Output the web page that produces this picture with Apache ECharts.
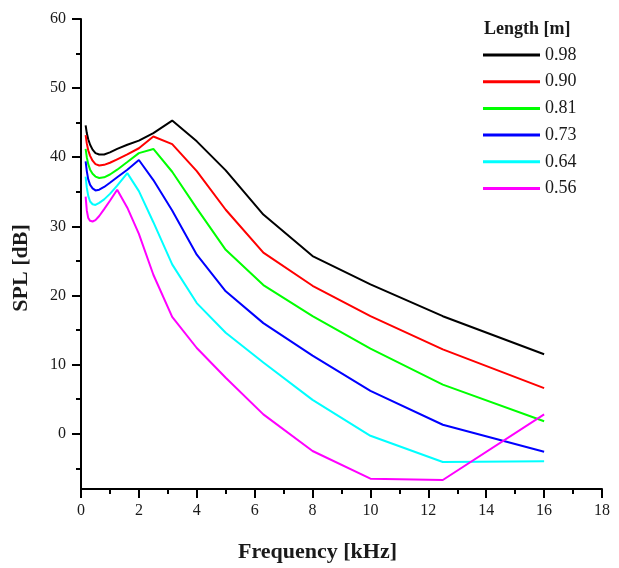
<!DOCTYPE html>
<html>
<head>
<meta charset="utf-8">
<script src="https://cdn.jsdelivr.net/npm/echarts@6.0.0/dist/echarts.min.js"></script>
<style>
html,body{margin:0;padding:0;background:#fff;}
#chart{width:619px;height:568px;}
</style>
</head>
<body>
<div id="chart"></div>
<script>
// Frequency bands [kHz]
const freq = [0.16, 0.2, 0.25, 0.315, 0.4, 0.5, 0.63, 0.8, 1.0, 1.25, 1.6, 2.0, 2.5, 3.15, 4.0, 5.0, 6.3, 8.0, 10.0, 12.5, 16.0];

// SPL [dB] per tube length [m]
const len098 = [44.6, 43.5, 42.6, 41.8, 41.1, 40.6, 40.4, 40.4, 40.7, 41.2, 41.8, 42.4, 43.5, 45.3, 42.3, 38.1, 31.7, 25.7, 21.6, 17.0, 11.5];
const len090 = [43.2, 42.0, 41.0, 40.2, 39.5, 39.0, 38.8, 38.9, 39.2, 39.7, 40.4, 41.3, 43.0, 41.9, 38.0, 32.4, 26.2, 21.4, 17.0, 12.2, 6.6];
const len081 = [41.2, 40.0, 39.0, 38.2, 37.6, 37.2, 37.0, 37.1, 37.5, 38.2, 39.3, 40.6, 41.2, 37.9, 32.6, 26.6, 21.5, 17.0, 12.3, 7.1, 1.8];
const len073 = [39.4, 38.0, 36.8, 36.0, 35.5, 35.2, 35.3, 35.7, 36.3, 37.1, 38.2, 39.6, 36.7, 32.3, 25.9, 20.6, 16.0, 11.3, 6.2, 1.3, -2.6];
const len064 = [37.2, 35.6, 34.4, 33.6, 33.2, 33.1, 33.4, 33.9, 34.7, 35.9, 37.7, 35.1, 30.6, 24.5, 18.9, 14.6, 10.3, 4.9, -0.3, -4.1, -4.0];
const len056 = [34.3, 32.3, 31.2, 30.8, 30.7, 30.9, 31.5, 32.5, 33.7, 35.3, 32.7, 28.9, 23.0, 16.9, 12.4, 8.1, 2.8, -2.5, -6.5, -6.7, 2.8];

const seriesNames = ['0.98', '0.90', '0.81', '0.73', '0.64', '0.56'];
const seriesValues = [len098, len090, len081, len073, len064, len056];
const seriesColors = ['#000000', '#ff0000', '#00ff00', '#0000ff', '#00ffff', '#ff00ff'];

// Axis ticks
const yTicks = [0, 10, 20, 30, 40, 50, 60];
const yMinorTicks = [-5, 5, 15, 25, 35, 45, 55];

const FONT = "'Liberation Serif', 'DejaVu Serif', serif";
const TXT = '#1a1a1a';

const chart = echarts.init(document.getElementById('chart'), null, {renderer: 'canvas'});

const series = seriesNames.map((name, k) => ({
  name: name,
  type: 'line',
  xAxisIndex: 0,
  yAxisIndex: 0,
  symbol: 'none',
  smooth: false,
  lineStyle: {width: 2, color: seriesColors[k]},
  itemStyle: {color: seriesColors[k]},
  data: freq.map((f, i) => [f, seriesValues[k][i]])
}));

chart.setOption({
  animation: false,
  backgroundColor: '#ffffff',
  title: {
    text: 'Length [m]',
    left: 484,
    top: 20,
    padding: 0,
    textStyle: {fontFamily: FONT, fontWeight: 'bold', fontSize: 18, color: TXT}
  },
  legend: {
    orient: 'vertical',
    left: 483,
    top: 46,
    padding: 0,
    itemWidth: 57,
    itemHeight: 3,
    itemGap: 8.7,
    icon: 'rect',
    data: seriesNames,
    textStyle: {fontFamily: FONT, fontSize: 18, lineHeight: 18, color: TXT}
  },
  grid: {left: 81, right: 17, top: 19, bottom: 78, containLabel: false},
  xAxis: {
    type: 'value',
    min: 0,
    max: 18,
    interval: 2,
    name: 'Frequency [kHz]',
    nameLocation: 'middle',
    nameGap: 52,
    nameTextStyle: {fontFamily: FONT, fontWeight: 'bold', fontSize: 22, color: TXT, padding: [0, 48, 0, 0]},
    axisLine: {show: true, onZero: false, lineStyle: {color: '#000', width: 2}},
    axisTick: {show: true, inside: false, length: 9, lineStyle: {color: '#000', width: 2}},
    minorTick: {show: true, splitNumber: 2, length: 5, lineStyle: {color: '#000', width: 2}},
    axisLabel: {fontFamily: FONT, fontSize: 16, color: TXT, margin: 14},
    splitLine: {show: false},
    minorSplitLine: {show: false}
  },
  yAxis: [
    {
      type: 'value',
      min: -8,
      max: 60,
      position: 'left',
      name: 'SPL [dB]',
      nameLocation: 'middle',
      nameGap: 49,
      nameRotate: 90,
      nameTextStyle: {fontFamily: FONT, fontWeight: 'bold', fontSize: 22, color: TXT, padding: [0, 28, 0, 0]},
      axisLine: {show: true, onZero: false, lineStyle: {color: '#000', width: 2}},
      axisTick: {show: true, inside: false, length: 9, customValues: yTicks, lineStyle: {color: '#000', width: 2}},
      axisLabel: {fontFamily: FONT, fontSize: 16, color: TXT, margin: 15, customValues: yTicks},
      splitLine: {show: false}
    },
    {
      type: 'value',
      min: -8,
      max: 60,
      position: 'left',
      axisLine: {show: false},
      axisTick: {show: true, inside: false, length: 5, customValues: yMinorTicks, lineStyle: {color: '#000', width: 2}},
      axisLabel: {show: false},
      splitLine: {show: false}
    }
  ],
  series: series
});
</script>
</body>
</html>
